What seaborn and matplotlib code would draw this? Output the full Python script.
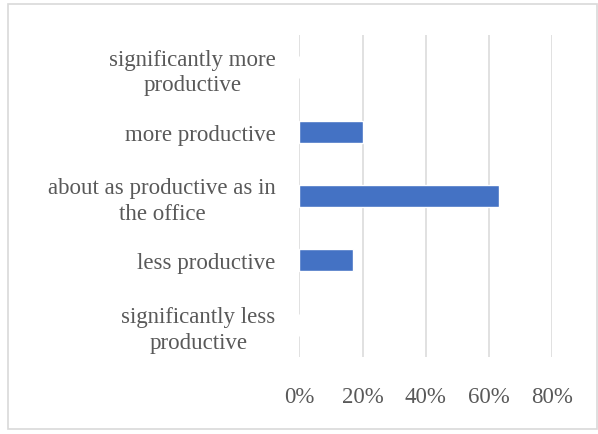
import matplotlib
matplotlib.use("Agg")
import matplotlib.pyplot as plt
import seaborn as sns
import pandas as pd
from matplotlib.ticker import PercentFormatter
from matplotlib.patches import Rectangle

categories = ["significantly more\nproductive", "more productive",
              "about as productive as in\nthe office", "less productive",
              "significantly less\nproductive"]
values = [0.0, 0.20, 0.63, 0.17, 0.0]
xticks = [0.0, 0.2, 0.4, 0.6, 0.8]

df = pd.DataFrame({"category": categories, "value": values})

sns.set_theme(style="white")
plt.rcParams['font.family'] = ['Liberation Serif', 'DejaVu Serif']

W, H = 598, 435
fig = plt.figure(figsize=(W / 100, H / 100), dpi=100)
ax = fig.add_axes([299.3 / W, 1 - 358 / H, (552.3 - 299.3) / W, (358 - 36) / H])

sns.barplot(data=df, x="value", y="category", orient="h", order=categories,
            color="#4472C4", width=0.34, saturation=1, ax=ax, zorder=3)

ax.set_xlim(0, 0.8)
ax.set_xticks(xticks)
ax.xaxis.set_major_formatter(PercentFormatter(1.0, decimals=0))
ax.grid(axis="x", color="#d9d9d9", linewidth=1.1, zorder=0)
ax.grid(axis="y", visible=False)
for s in ax.spines.values():
    s.set_visible(False)
ax.set_xlabel("")
ax.set_ylabel("")
ax.tick_params(axis="x", length=0, pad=21, labelsize=16.5, labelcolor="#595959")
ax.tick_params(axis="y", length=0, pad=17, labelsize=16.5, labelcolor="#595959")
for lbl in ax.get_yticklabels():
    lbl.set_multialignment("center")
    lbl.set_linespacing(1.3)

fig.patches.append(Rectangle((8 / W, 1 - 430 / H), (597 - 8) / W, (430 - 5) / H,
                             transform=fig.transFigure, fill=False,
                             edgecolor="#d9d9d9", linewidth=1.2))

fig.savefig("out.png", dpi=100)
